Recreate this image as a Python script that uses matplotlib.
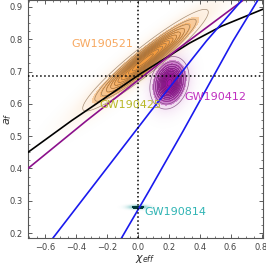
import numpy as np
import matplotlib.pyplot as plt
from matplotlib.colors import to_rgb, LinearSegmentedColormap

# Lineas de referencia (chi_eff, a_f)
black_x = [-0.71, -0.428, 0.024, 0.335, 0.54, 0.81]
black_y = [0.45, 0.548, 0.695, 0.788, 0.84, 0.893]
purple_x = [-0.71, -0.331, 0.26, 0.677]
purple_y = [0.40, 0.548, 0.77, 0.919]
blue1_x = [-0.548, 0.077, 0.443, 0.67]
blue1_y = [0.185, 0.573, 0.794, 0.919]
blue2_x = [-0.105, 0.073, 0.292, 0.615, 0.774]
blue2_y = [0.185, 0.331, 0.515, 0.794, 0.919]

# Posteriores aproximadas: centro, sigma_x, sigma_y, correlacion
events = ['GW190521', 'GW190412', 'GW190425', 'GW190814']
centers = [(0.05, 0.735), (0.205, 0.665), (0.03, 0.69), (0.0, 0.28)]
sigmas = [(0.16, 0.062), (0.05, 0.032), (0.012, 0.006), (0.03, 0.003)]
rhos = [0.945, 0.2, 0.5, 0.0]
colors = ['#f39a3c', '#a414a4', '#c8c830', '#1a9a9a']
line_colors = ['#7a5a3a', '#5a1a5a', '#909020', '#005555']

# Etiquetas
label_pos = [(-0.23, 0.785), (0.5, 0.622), (-0.05, 0.597), (0.245, 0.265)]
label_colors = ['#f7a860', '#c030c0', '#b8b828', '#30b4b4']

fig = plt.figure(figsize=(2.66, 2.64), dpi=100)
ax = fig.add_axes([0.105, 0.0985, 0.884, 0.9])

xlim = (-0.71, 0.81)
ylim = (0.185, 0.92)
gx = np.linspace(*xlim, 500)
gy = np.linspace(*ylim, 500)
X, Y = np.meshgrid(gx, gy)

for i, ev in enumerate(events):
    mx, my = centers[i]
    sx, sy = sigmas[i]
    r = rhos[i]
    dx = (X - mx) / sx
    dy = (Y - my) / sy
    Z = np.exp(-(dx**2 - 2*r*dx*dy + dy**2) / (2*(1 - r**2)))
    # halo difuminado
    rgba = np.zeros(Z.shape + (4,))
    rgba[..., :3] = to_rgb(colors[i])
    if i == 0:
        rgba[..., 3] = np.clip(Z**0.4 * 0.45, 0, 1)
    elif i == 1:
        rgba[..., 3] = np.clip(Z**0.5 * 0.55, 0, 1)
    else:
        rgba[..., 3] = np.clip(Z**0.5 * 0.8, 0, 1)
    ax.imshow(rgba, extent=(*xlim, *ylim), origin='lower', aspect='auto',
              interpolation='bilinear', zorder=1)
    if i < 2:
        c = to_rgb(colors[i])
        cmap = LinearSegmentedColormap.from_list(
            'c', [c + (0.35,), c + (1.0,)])
        ax.contourf(X, Y, Z, levels=np.linspace(0.1, 1.0, 11), cmap=cmap,
                    zorder=1.5)
        ax.contour(X, Y, Z, levels=np.linspace(0.04, 0.95, 12),
                   colors=line_colors[i], linewidths=0.5, alpha=0.65, zorder=2)
    elif i == 3:
        ax.contourf(X, Y, Z, levels=[0.45, 1.01], colors=['#003838'], zorder=2)

ax.plot(black_x, black_y, color='black', lw=1.2, zorder=3)
ax.plot(purple_x, purple_y, color='#8b108b', lw=1.2, zorder=3)
ax.plot(blue1_x, blue1_y, color='#1a1aee', lw=1.2, zorder=3)
ax.plot(blue2_x, blue2_y, color='#1a1aee', lw=1.2, zorder=3)

ax.axvline(0.0, color='black', ls=':', lw=1.1, zorder=4)
ax.axhline(0.686, color='black', ls=':', lw=1.1, zorder=4)

for ev, (tx, ty), c in zip(events, label_pos, label_colors):
    ax.text(tx, ty, ev, color=c, fontsize=8, ha='center', va='center', zorder=5)

ax.set_xlim(xlim)
ax.set_ylim(ylim)
ax.set_xticks([-0.6, -0.4, -0.2, 0.0, 0.2, 0.4, 0.6, 0.8])
ax.set_yticks([0.2, 0.3, 0.4, 0.5, 0.6, 0.7, 0.8, 0.9])
ax.set_xticks(np.arange(-0.7, 0.81, 0.05), minor=True)
ax.set_yticks(np.arange(0.2, 0.92, 0.025), minor=True)
ax.tick_params(which='both', direction='in', top=True, right=True,
               labelsize=6, labelcolor='#444444', color='#444444')
ax.tick_params(which='major', length=3, width=0.6)
ax.tick_params(which='minor', length=1.5, width=0.5)
for s in ax.spines.values():
    s.set_color('#555555')
    s.set_linewidth(0.8)

ax.set_xlabel(r'$\chi_{eff}$', fontsize=8, color='#333333')
ax.xaxis.set_label_coords(0.5, -0.09)
ax.xaxis.label.set_va('center')
ax.set_ylabel(r'$a_f$', fontsize=8, color='#333333')
ax.yaxis.set_label_coords(-0.085, 0.5)
ax.yaxis.label.set_va('center')

plt.savefig('out.png', dpi=100)
